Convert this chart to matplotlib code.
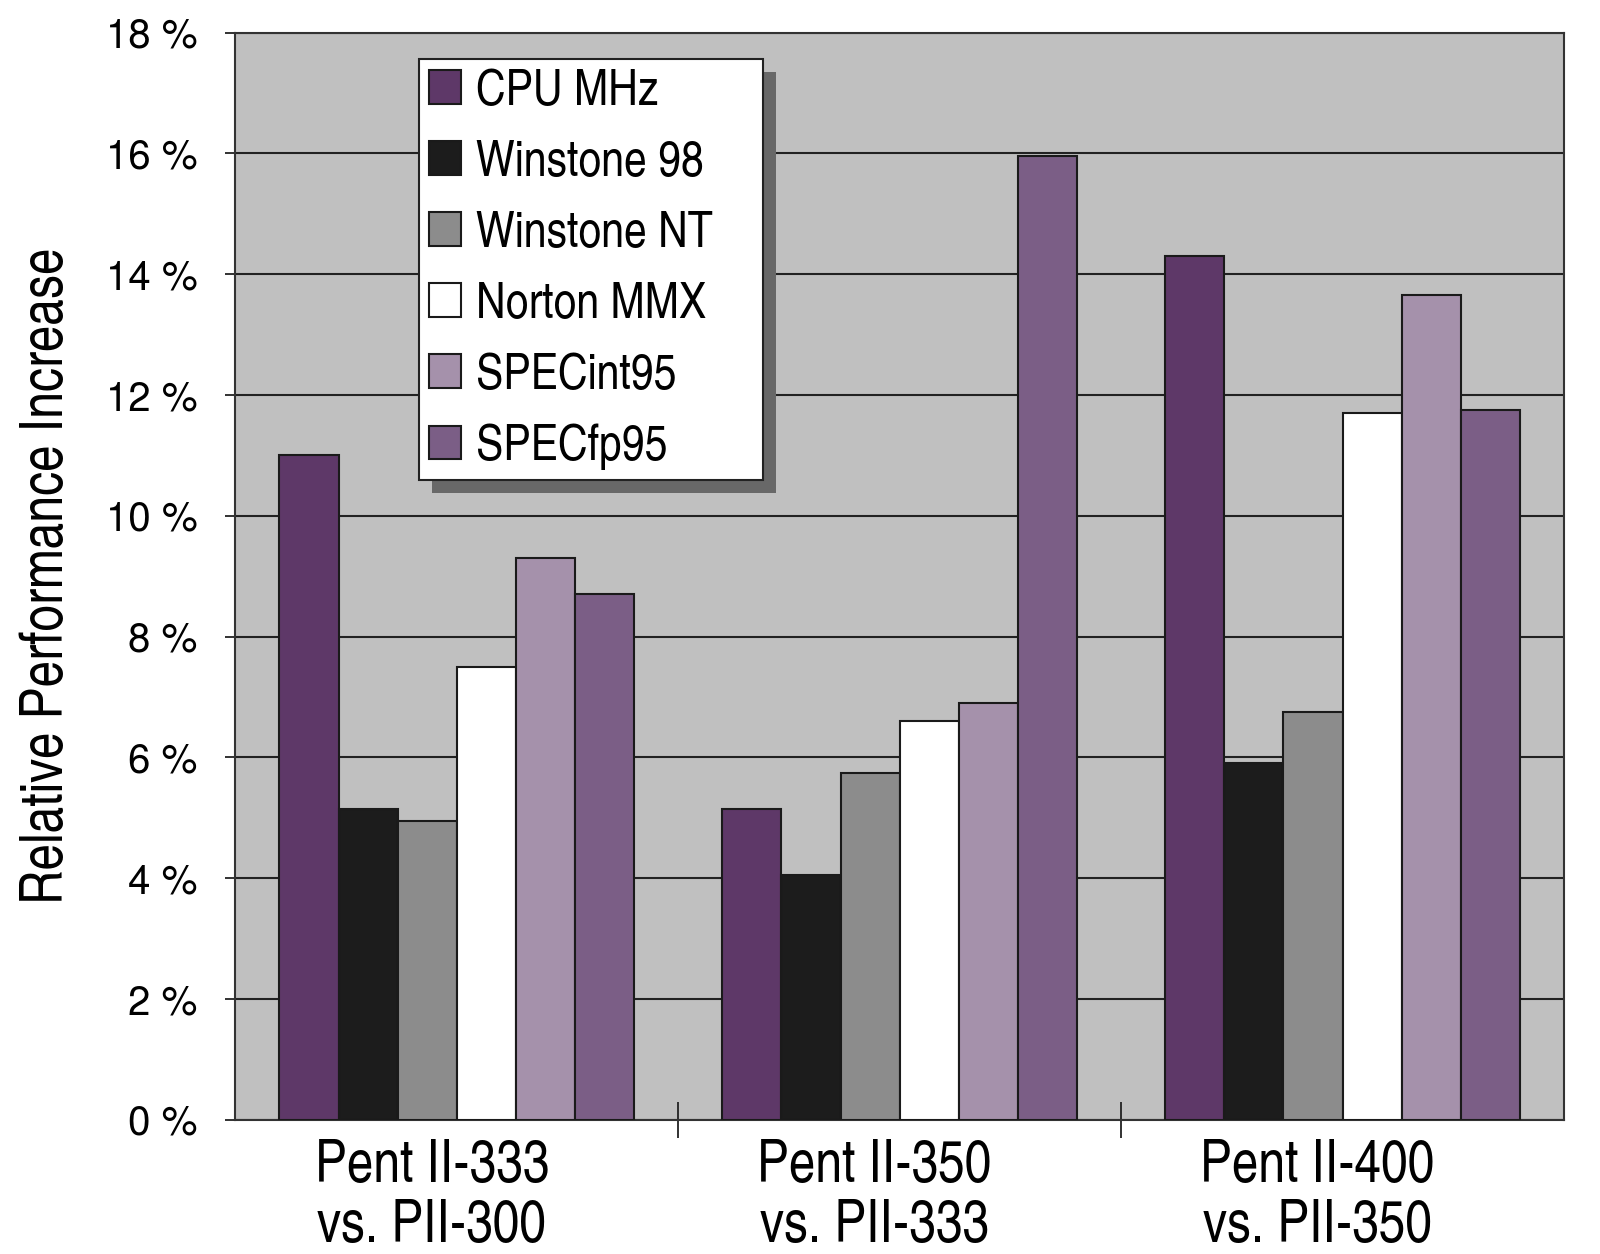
import numpy as np
import matplotlib
matplotlib.use("Agg")
import matplotlib.pyplot as plt
from matplotlib.patches import Rectangle
from matplotlib.ticker import FuncFormatter
from matplotlib.transforms import ScaledTranslation

groups = ["Pent II-333\nvs. PII-300", "Pent II-350\nvs. PII-333", "Pent II-400\nvs. PII-350"]
series = ["CPU MHz", "Winstone 98", "Winstone NT", "Norton MMX", "SPECint95", "SPECfp95"]
cpu_mhz = [11.0, 5.15, 14.3]
winstone_98 = [5.15, 4.05, 5.9]
winstone_nt = [4.95, 5.75, 6.75]
norton_mmx = [7.5, 6.6, 11.7]
specint95 = [9.3, 6.9, 13.65]
specfp95 = [8.7, 15.95, 11.75]
values = [cpu_mhz, winstone_98, winstone_nt, norton_mmx, specint95, specfp95]
colors = ["#5e3868", "#1c1c1c", "#8c8c8c", "#ffffff", "#a591ab", "#7b5e86"]

cond = ["TeX Gyre Heros Cn", "DejaVu Sans"]
heros = ["TeX Gyre Heros", "DejaVu Sans"]

fig = plt.figure(figsize=(16, 12.54), dpi=100)
ax = fig.add_axes([0.147, 0.107, 0.8305, 0.867])
ax.set_facecolor("#c0c0c0")

x = np.arange(len(groups))
w = 0.8 / len(series)
for i, (name, vals, col) in enumerate(zip(series, values, colors)):
    ax.bar(x - 0.4 + w * (i + 0.5), vals, w, color=col, edgecolor="#1a1a1a",
           linewidth=1.5, label=name, zorder=3)

ax.set_ylim(0, 18)
ax.set_xlim(-0.5, 2.5)
ax.set_yticks(np.arange(0, 19, 2))
ax.yaxis.set_major_formatter(FuncFormatter(lambda v, p: f"{int(v)} %"))
ax.grid(axis="y", color="#222222", linewidth=1.5, zorder=1)
ax.set_axisbelow(True)

ax.set_xticks(x)
ax.set_xticklabels(groups, family=cond, fontsize=42, linespacing=1.12)
ax.tick_params(axis="x", which="major", length=0, pad=14)
shift = ScaledTranslation(-25 / 100, 0, fig.dpi_scale_trans)
for lab in ax.get_xticklabels():
    lab.set_transform(lab.get_transform() + shift)
ax.set_xticks([0.5, 1.5], minor=True)
ax.tick_params(axis="x", which="minor", direction="inout", length=26, width=1.3, color="#222222")
ax.tick_params(axis="y", length=7, width=1.3, color="#222222", pad=20)
for lab in ax.get_yticklabels():
    lab.set_family(heros)
    lab.set_fontsize(29)

for s in ax.spines.values():
    s.set_color("#333333")
    s.set_linewidth(1.5)

ax.set_ylabel("Relative Performance Increase", family=cond, fontsize=42, labelpad=22)

leg = ax.legend(loc="upper left", bbox_to_anchor=(0.138, 0.976, 0.259, 0), mode="expand",
                borderaxespad=0, prop={"family": cond, "size": 36}, fancybox=False,
                framealpha=1, edgecolor="#222222", labelspacing=0.5, handlelength=0.65,
                handleheight=0.65, handletextpad=0.3, borderpad=0.2)
leg.get_frame().set_linewidth(1.5)
leg.set_zorder(10)

# drop shadow behind legend
fig.canvas.draw()
bb = leg.get_window_extent()
shadow = Rectangle((bb.x0 + 13, bb.y0 - 13), bb.width, bb.height,
                   transform=None, facecolor="#686868", edgecolor="none", zorder=9)
ax.add_artist(shadow)

fig.savefig("out.png", dpi=100)
